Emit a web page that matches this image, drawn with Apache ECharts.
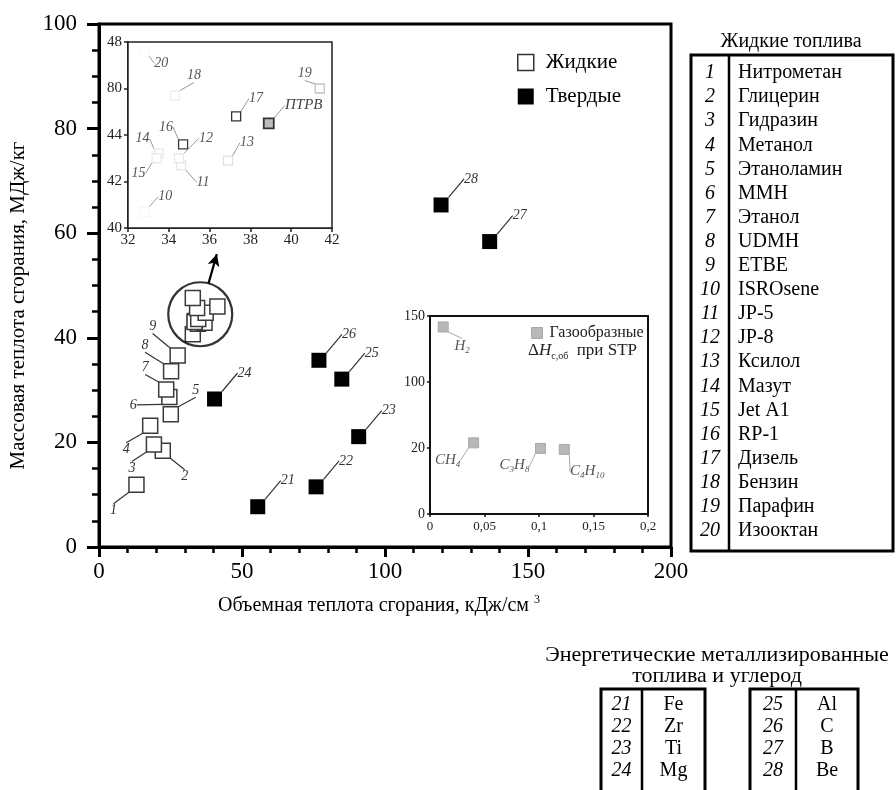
<!DOCTYPE html>
<html>
<head>
<meta charset="utf-8">
<script src="https://cdn.jsdelivr.net/npm/echarts@6/dist/echarts.min.js"></script>
<style>
  html, body { margin: 0; padding: 0; background: #fff; }
  #chart { width: 896px; height: 790px; }
</style>
</head>
<body>
<div id="chart"></div>
<script>
// ---- Liquid fuels (1–20): volumetric heat, kJ/cm3, and mass heat, MJ/kg ----
const liquidIds = ['1','2','3','4','5','6','7','8','9','10','11','12','13','14','15','16','17','18','19','20'];
const liquidNames = ['Нитрометан','Глицерин','Гидразин','Метанол','Этаноламин','MMH','Этанол','UDMH','ETBE',
  'ISROsene','JP-5','JP-8','Ксилол','Мазут','Jet A1','RP-1','Дизель','Бензин','Парафин','Изооктан'];
const liquidVol  = [13.1, 22.3, 19.2, 17.9, 25.1, 24.6, 23.5, 25.2, 27.5, 32.8, 34.6, 34.5, 36.9, 33.5, 33.4, 34.7, 37.3, 34.3, 41.4, 32.8];
const liquidMass = [11.9, 18.4, 19.6, 23.2, 25.4, 28.7, 30.1, 33.6, 36.6, 40.7, 42.7, 43.0, 42.9, 43.2, 43.0, 43.6, 44.8, 45.7, 46.0, 47.6];

// ---- Rocket kerosene shown only in the zoomed panel ----
const rpName = 'ПТРВ';
const rpVol = [38.9];
const rpMass = [44.5];

// ---- Energetic metals and carbon (21–28) ----
const solidIds = ['21','22','23','24','25','26','27','28'];
const solidNames = ['Fe','Zr','Ti','Mg','Al','C','B','Be'];
const solidVol  = [55.5, 75.9, 90.8, 40.4, 84.9, 76.9, 136.6, 119.6];
const solidMass = [7.7, 11.5, 21.1, 28.3, 32.1, 35.7, 58.4, 65.4];

// ---- Gases at STP ----
const gasLabels = ['{i|H}{s|2}', '{i|CH}{s|4}', '{i|C}{s|3}{i|H}{s|8}', '{i|C}{s|4}{i|H}{s|10}'];
const gasVol  = [0.0121, 0.040, 0.1014, 0.1232];
const gasMass = [141.7, 53.9, 49.7, 48.9];

// ---- Tick labels ----
const mainXTicks = ['0','50','100','150','200'];
const mainYTicks = ['0','20','40','60','80','100'];
const zoomXTicks = ['32','34','36','38','40','42'];
const zoomYTicks = ['40','42','44','80','48'];
const gasXTicks  = ['0','0,05','0,1','0,15','0,2'];
const gasYTicks  = ['0','20','100','150'];

const SERIF = '"Liberation Serif", "Times New Roman", serif';

// label offsets (px) from each marker centre to its number
const mainLiquidShift = [[-23,26],[22,26],[-22,24],[-24,24],[25,-24],[-36,8],[-21,-22],[-26,-26],[-25,-29]];
const solidShift = [30,-26];
const zoomShift = [[21,-15],[22,17],[27,-20],[19,-18],[-16,-15],[-18,15],[-17,-17],[20,-18],[19,-20],[-15,-15],[17,12]];
const gasShift = [[19,19],[-26,17],[-26,17],[23,22]];
// outline tone of markers inside the zoomed panel (ids 10–20)
const zoomShade = ['#f7f7f7','#e8e8e8','#e8e8e8','#e0e0e0','#eaeaea','#eaeaea','#3c3c3c','#333333','#eeeeee','#c2c2c2','#f8f8f8'];

const range = (a, b) => Array.from({length: b - a}, (_, k) => a + k);

const chart = echarts.init(document.getElementById('chart'), null, {renderer: 'canvas'});

function axisBase(color, w) {
  return {
    type: 'value',
    splitLine: {show: false},
    axisLine: {show: true, onZero: false, lineStyle: {color: color, width: w}},
  };
}

// ---- table graphics built from the name lists ----
const graphics = [];
const tableFont = 20;
graphics.push({type: 'text', x: 791, y: 42, style: {text: 'Жидкие топлива', fontSize: tableFont, fontFamily: SERIF, fill: '#000', align: 'center', verticalAlign: 'middle'}});
graphics.push({type: 'rect', shape: {x: 691, y: 55, width: 202, height: 496}, style: {fill: 'none', stroke: '#000', lineWidth: 3}});
graphics.push({type: 'line', shape: {x1: 729, y1: 55, x2: 729, y2: 551}, style: {stroke: '#000', lineWidth: 2.5}});
liquidNames.forEach((nm, i) => {
  const y = 73 + i * 24.1;
  graphics.push({type: 'text', x: 710, y: y, style: {text: liquidIds[i], fontSize: tableFont, fontStyle: 'italic', fontFamily: SERIF, fill: '#000', align: 'center', verticalAlign: 'middle'}});
  graphics.push({type: 'text', x: 738, y: y, style: {text: nm, fontSize: tableFont, fontFamily: SERIF, fill: '#000', align: 'left', verticalAlign: 'middle'}});
});
graphics.push({type: 'text', x: 717, y: 655, style: {text: 'Энергетические металлизированные', fontSize: 22, fontFamily: SERIF, fill: '#000', align: 'center', verticalAlign: 'middle'}});
graphics.push({type: 'text', x: 717, y: 676, style: {text: 'топлива и углерод', fontSize: 22, fontFamily: SERIF, fill: '#000', align: 'center', verticalAlign: 'middle'}});
const boxes = [{left: 601, mid: 642, right: 705, from: 0}, {left: 750, mid: 796, right: 858, from: 4}];
boxes.forEach(b => {
  graphics.push({type: 'rect', shape: {x: b.left, y: 689, width: b.right - b.left, height: 130}, style: {fill: 'none', stroke: '#000', lineWidth: 3}});
  graphics.push({type: 'line', shape: {x1: b.mid, y1: 689, x2: b.mid, y2: 800}, style: {stroke: '#000', lineWidth: 2.5}});
  for (let j = 0; j < 4; j++) {
    const k = b.from + j, y = 705 + j * 22;
    graphics.push({type: 'text', x: (b.left + b.mid) / 2, y: y, style: {text: solidIds[k], fontSize: tableFont, fontStyle: 'italic', fontFamily: SERIF, fill: '#000', align: 'center', verticalAlign: 'middle'}});
    graphics.push({type: 'text', x: (b.mid + b.right) / 2, y: y, style: {text: solidNames[k], fontSize: tableFont, fontFamily: SERIF, fill: '#000', align: 'center', verticalAlign: 'middle'}});
  }
});
// second line of the gas legend
graphics.push({type: 'text', x: 528, y: 351, z: 20, style: {
  text: '{d|Δ}{i|H}{s|с,об}{d|  при STP}', fill: '#222', align: 'left', verticalAlign: 'middle',
  rich: {
    d: {fontSize: 17, fontFamily: SERIF, fill: '#222', lineHeight: 20},
    i: {fontSize: 17, fontFamily: SERIF, fontStyle: 'italic', fill: '#222', lineHeight: 20},
    s: {fontSize: 10, fontFamily: SERIF, fill: '#222', lineHeight: 10, verticalAlign: 'bottom'}
  }
}});

const option = {
  animation: false,
  backgroundColor: '#fff',
  textStyle: {fontFamily: SERIF},
  grid: [
    {left: 95, top: 24, width: 576, height: 523, show: true, borderColor: '#000', borderWidth: 3, backgroundColor: 'transparent'},
    {left: 128, top: 42, width: 204, height: 186, show: true, borderColor: '#222', borderWidth: 1.5, backgroundColor: '#fff', z: 3},
    {left: 430, top: 316, width: 218, height: 198, show: true, borderColor: '#111', borderWidth: 2, backgroundColor: '#fff', z: 3}
  ],
  legend: [
    {
      orient: 'vertical', left: 512, top: 47, itemWidth: 16, itemHeight: 16, itemGap: 13, icon: 'rect',
      textStyle: {fontSize: 21, fontFamily: SERIF, color: '#000', padding: [0, 0, 0, 7]},
      data: [
        {name: 'Жидкие', itemStyle: {color: '#fff', borderColor: '#333', borderWidth: 1.5}},
        {name: 'Твердые', itemStyle: {color: '#000', borderColor: '#000', borderWidth: 0}}
      ]
    },
    {
      left: 526, top: 320, itemWidth: 11, itemHeight: 11, icon: 'rect', z: 20,
      textStyle: {fontSize: 16, fontFamily: SERIF, color: '#222', padding: [0, 0, 0, 2]},
      data: [{name: 'Газообразные', itemStyle: {color: '#b8b8b8', borderColor: '#a8a8a8', borderWidth: 1}}]
    }
  ],
  xAxis: [
    Object.assign(axisBase('#000', 3), {
      gridIndex: 0, min: 0, max: 200, interval: 50,
      axisTick: {show: true, length: 10, lineStyle: {color: '#000', width: 3}},
      minorTick: {show: true, splitNumber: 5, length: 6, lineStyle: {color: '#000', width: 2.5}},
      axisLabel: {fontSize: 23, fontFamily: SERIF, color: '#000', margin: 13, formatter: v => mainXTicks[Math.round(v / 50)]},
      name: 'Объемная теплота сгорания, кДж/см {sup|3}', nameLocation: 'middle', nameGap: 47,
      nameTextStyle: {fontSize: 20, fontFamily: SERIF, color: '#000', lineHeight: 24, padding: [0, 12, 0, 0],
        rich: {sup: {fontSize: 12, fontFamily: SERIF, color: '#000', lineHeight: 12, verticalAlign: 'top'}}}
    }),
    Object.assign(axisBase('#222', 2), {
      gridIndex: 1, min: 32, max: 42, interval: 2,
      axisTick: {show: true, length: 4, lineStyle: {color: '#222', width: 1.5}},
      axisLabel: {fontSize: 15, fontFamily: SERIF, color: '#222', margin: 5, formatter: v => zoomXTicks[Math.round((v - 32) / 2)]}
    }),
    Object.assign(axisBase('#111', 2), {
      gridIndex: 2, min: 0, max: 0.2, interval: 0.05,
      axisTick: {show: true, length: 3, lineStyle: {color: '#111', width: 1.5}},
      axisLabel: {fontSize: 13, fontFamily: SERIF, color: '#222', margin: 6, formatter: v => gasXTicks[Math.round(v / 0.05)]}
    })
  ],
  yAxis: [
    Object.assign(axisBase('#000', 3), {
      gridIndex: 0, min: 0, max: 100, interval: 20,
      axisTick: {show: true, length: 12, lineStyle: {color: '#000', width: 3}},
      minorTick: {show: true, splitNumber: 4, length: 7, lineStyle: {color: '#000', width: 2.5}},
      axisLabel: {fontSize: 23, fontFamily: SERIF, color: '#000', margin: 22, formatter: v => mainYTicks[Math.round(v / 20)]},
      name: 'Массовая теплота сгорания, МДж/кг', nameLocation: 'middle', nameGap: 70,
      nameTextStyle: {fontSize: 21, fontFamily: SERIF, color: '#000', padding: [0, 40, 0, 0]}
    }),
    Object.assign(axisBase('#222', 2), {
      gridIndex: 1, min: 40, max: 48, interval: 2,
      axisTick: {show: true, length: 4, lineStyle: {color: '#222', width: 1.5}},
      axisLabel: {fontSize: 15, fontFamily: SERIF, color: '#222', margin: 6, formatter: v => zoomYTicks[Math.round((v - 40) / 2)]}
    }),
    Object.assign(axisBase('#111', 2), {
      gridIndex: 2, min: 0, max: 150, interval: 50,
      axisTick: {show: true, length: 3, lineStyle: {color: '#111', width: 1.5}},
      axisLabel: {fontSize: 14, fontFamily: SERIF, color: '#222', margin: 5, formatter: v => gasYTicks[Math.round(v / 50)]}
    })
  ],
  series: [
    {
      name: 'Жидкие', type: 'scatter', xAxisIndex: 0, yAxisIndex: 0, symbol: 'rect', symbolSize: 15, z: 5,
      itemStyle: {color: '#fff', borderColor: '#3a3a3a', borderWidth: 1.5, opacity: 1},
      data: range(0, 9).map(i => [liquidVol[i], liquidMass[i]]),
      label: {show: true, position: 'inside', formatter: p => liquidIds[p.dataIndex], fontSize: 14, fontStyle: 'italic', fontFamily: SERIF, color: '#333'},
      labelLine: {show: true, lineStyle: {color: '#333', width: 1.2}},
      labelLayout: p => ({dx: mainLiquidShift[p.dataIndex][0], dy: mainLiquidShift[p.dataIndex][1]})
    },
    {
      name: 'Жидкие', type: 'scatter', xAxisIndex: 0, yAxisIndex: 0, symbol: 'rect', symbolSize: 15, z: 5,
      itemStyle: {color: '#fff', borderColor: '#3a3a3a', borderWidth: 1.5, opacity: 1},
      data: range(9, 20).map(i => [liquidVol[i], liquidMass[i]])
    },
    {
      name: 'Твердые', type: 'scatter', xAxisIndex: 0, yAxisIndex: 0, symbol: 'rect', symbolSize: 15, z: 5,
      itemStyle: {color: '#000', opacity: 1},
      data: solidVol.map((v, i) => [v, solidMass[i]]),
      label: {show: true, position: 'inside', formatter: p => solidIds[p.dataIndex], fontSize: 14, fontStyle: 'italic', fontFamily: SERIF, color: '#333'},
      labelLine: {show: true, lineStyle: {color: '#333', width: 1.2}},
      labelLayout: () => ({dx: solidShift[0], dy: solidShift[1]})
    },
    {
      // ring around the kerosene-type cluster and the pointer to the zoomed panel
      name: 'cluster', type: 'scatter', xAxisIndex: 0, yAxisIndex: 0, symbol: 'circle', symbolSize: 64, z: 6, silent: true,
      itemStyle: {color: 'rgba(0,0,0,0)', borderColor: '#000', borderWidth: 2.2},
      data: [[35.4, 44.5]],
      markLine: {
        silent: true, symbol: ['none', 'arrow'], symbolSize: [9, 12], label: {show: false},
        lineStyle: {color: '#000', width: 2.2, type: 'solid'},
        data: [[{coord: [38.3, 50.4]}, {coord: [41.2, 56.0]}]]
      }
    },
    {
      name: 'zoom', type: 'scatter', xAxisIndex: 1, yAxisIndex: 1, symbol: 'rect', symbolSize: 9, z: 5,
      data: range(9, 20).map((i, k) => ({value: [liquidVol[i], liquidMass[i]], itemStyle: {borderColor: zoomShade[k]}})),
      itemStyle: {color: '#fff', borderWidth: 1.3, opacity: 1},
      label: {show: true, position: 'inside', formatter: p => liquidIds[9 + p.dataIndex], fontSize: 14, fontStyle: 'italic', fontFamily: SERIF, color: '#555'},
      labelLine: {show: true, lineStyle: {color: '#999', width: 1}},
      labelLayout: p => ({dx: zoomShift[p.dataIndex][0], dy: zoomShift[p.dataIndex][1]})
    },
    {
      name: rpName, type: 'scatter', xAxisIndex: 1, yAxisIndex: 1, symbol: 'rect', symbolSize: 10, z: 5,
      itemStyle: {color: '#bdbdbd', borderColor: '#333', borderWidth: 1.8, opacity: 1},
      data: rpVol.map((v, i) => [v, rpMass[i]]),
      label: {show: true, position: 'inside', formatter: rpName, fontSize: 15, fontStyle: 'italic', fontFamily: SERIF, color: '#444'},
      labelLine: {show: true, lineStyle: {color: '#999', width: 1}},
      labelLayout: () => ({dx: 35, dy: -18})
    },
    {
      name: 'Газообразные', type: 'scatter', xAxisIndex: 2, yAxisIndex: 2, symbol: 'rect', symbolSize: 10, z: 5,
      itemStyle: {color: '#b8b8b8', borderColor: '#a8a8a8', borderWidth: 1, opacity: 1},
      data: gasVol.map((v, i) => [v, gasMass[i]]),
      label: {
        show: true, position: 'inside', formatter: p => gasLabels[p.dataIndex],
        rich: {
          i: {fontSize: 15, fontStyle: 'italic', fontFamily: SERIF, color: '#555', lineHeight: 18},
          s: {fontSize: 9, fontStyle: 'italic', fontFamily: SERIF, color: '#555', lineHeight: 9, verticalAlign: 'bottom'}
        }
      },
      labelLine: {show: true, lineStyle: {color: '#aaa', width: 1}},
      labelLayout: p => ({dx: gasShift[p.dataIndex][0], dy: gasShift[p.dataIndex][1]})
    }
  ],
  graphic: graphics
};

chart.setOption(option);
</script>
</body>
</html>
